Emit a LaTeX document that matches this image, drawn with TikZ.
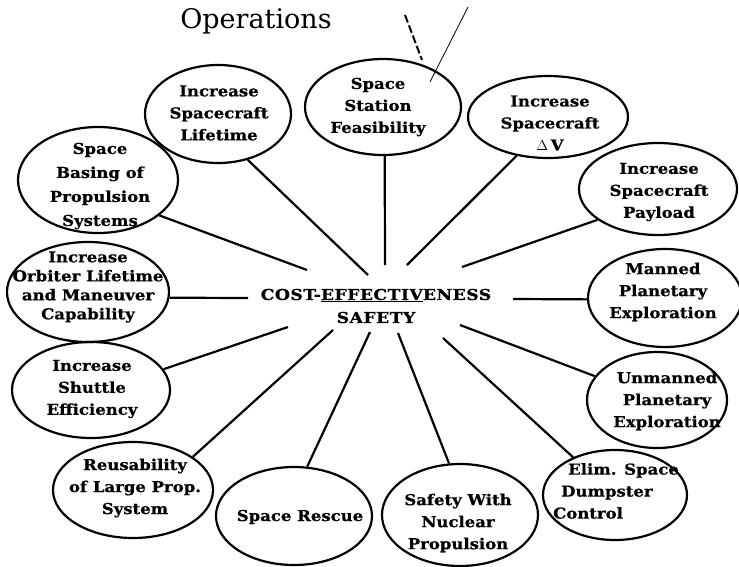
\documentclass[tikz,border=0pt]{standalone}
\usepackage{fontspec}
\setmainfont{DejaVu Serif}
\newfontfamily\lblfont{DejaVu Serif}[FakeStretch=1.1, FakeBold=0.6]
\newfontfamily\ctrfont{DejaVu Serif}[FakeStretch=1.15, LetterSpace=3, FakeBold=0.6]
\usetikzlibrary{shapes.geometric}
\tikzset{
  oval/.style={draw, ellipse, line width=2.2pt, inner sep=0pt, minimum width=#1},
  lbl/.style={font=\lblfont\fontsize{15}{22}\selectfont\bfseries, align=center, inner sep=0pt},
  link/.style={line width=2.2pt},
}
\begin{document}
\begin{tikzpicture}[x=1pt,y=-1pt]
\useasboundingbox (0,0) rectangle (739,566);
\node[font=\fontsize{27}{30}\selectfont, inner sep=0pt] (ops) at (256,21) {Operations};
% ellipses
\node[oval=146pt, minimum height=98pt] (e1) at (218,114) {};
\node[oval=156pt, minimum height=96pt] (e2) at (383,107) {};
\node[oval=160pt, minimum height=82pt] (e3) at (548,117) {};
\node[oval=158pt, minimum height=92pt] (e4) at (658,189) {};
\node[oval=154pt, minimum height=98pt] (e5) at (665,298) {};
\node[oval=140pt, minimum height=96pt] (e6) at (657,400) {};
\node[oval=144pt, minimum height=90pt] (e7) at (615,495) {};
\node[oval=156pt, minimum height=102pt] (e8) at (460,515) {};
\node[oval=156pt, minimum height=98pt] (e9) at (294,516) {};
\node[oval=160pt, minimum height=96pt] (e10) at (133,490) {};
\node[oval=158pt, minimum height=96pt] (e11) at (91,390) {};
\node[oval=162pt, minimum height=100pt] (e12) at (88,292) {};
\node[oval=160pt, minimum height=106pt] (e13) at (98,180) {};
% labels
\node[lbl] (t1) at (219,113) {Increase\\Spacecraft\\Lifetime};
\node[lbl] (t2) at (378,107) {Space\\Station\\Feasibility};
\node[lbl] (t3) at (550,123) {Increase\\Spacecraft\\$\Delta$\,V};
\node[lbl] (t4) at (659,192) {Increase\\Spacecraft\\Payload};
\node[lbl] (t5) at (663,292) {Manned\\Planetary\\Exploration};
\node[lbl] (t6) at (667,401) {Unmanned\\Planetary\\Exploration};
\node[lbl, align=left, anchor=west] (t7) at (553,491) {\hspace*{15pt}Elim. Space\\\hspace*{8pt}Dumpster\\Control};
\node[lbl] (t8) at (458,523) {Safety With\\Nuclear\\Propulsion};
\node[lbl] (t9) at (300,517) {Space Rescue};
\node[lbl] (t10) at (135,488) {Reusability\\of Large Prop.\\System};
\node[lbl] (t11) at (92,389) {Increase\\Shuttle\\Efficiency};
\node[lbl, font=\lblfont\fontsize{15}{19}\selectfont\bfseries] (t12) at (88,287) {Increase\\Orbiter Lifetime\\and Maneuver\\Capability};
\node[lbl, font=\lblfont\fontsize{15}{24}\selectfont\bfseries] (t13) at (100,186) {Space\\Basing of\\Propulsion\\Systems};
% centre
\node[lbl, font=\ctrfont\fontsize{15}{23}\selectfont\bfseries] (c) at (376,306) {COST-\underline{EFFECTIV}ENESS\\SAFETY};
% inner ends
\coordinate (c1) at (368,275);
\coordinate (c2) at (385,265);
\coordinate (c3) at (407,265);
\coordinate (c4) at (462,267);
\coordinate (c5) at (513,299);
\coordinate (c6) at (460,325);
\coordinate (c7) at (443,338);
\coordinate (c8) at (398,333);
\coordinate (c9) at (370,332);
\coordinate (c10) at (333,330);
\coordinate (c11) at (288,327);
\coordinate (c12) at (248,298);
\coordinate (c13) at (307,270);
% connectors
\draw[link] (e1.-57) -- (c1);
\draw[link] (e2.-88) -- (c2);
\draw[link] (e3.-129) -- (c3);
\draw[link] (e4.-153) -- (c4);
\draw[link] (e5.181) -- (c5);
\draw[link] (e6.159) -- (c6);
\draw[link] (e7.138) -- (c7);
\draw[link] (e8.102) -- (c8);
\draw[link] (e9.75) -- (c9);
\draw[link] (e10.29) -- (c10);
\draw[link] (e11.16) -- (c11);
\draw[link] (e12.-4) -- (c12);
\draw[link] (e13.-30) -- (c13);
% scan marks at top
\coordinate (m1) at (468,7);
\coordinate (m2) at (430,82);
\coordinate (m3) at (405,15);
\coordinate (m4) at (422,60);
\draw[line width=0.8pt] (m1) -- (m2);
\draw[line width=2pt, dash pattern=on 8pt off 3pt] (m3) -- (m4);
\end{tikzpicture}
\end{document}
